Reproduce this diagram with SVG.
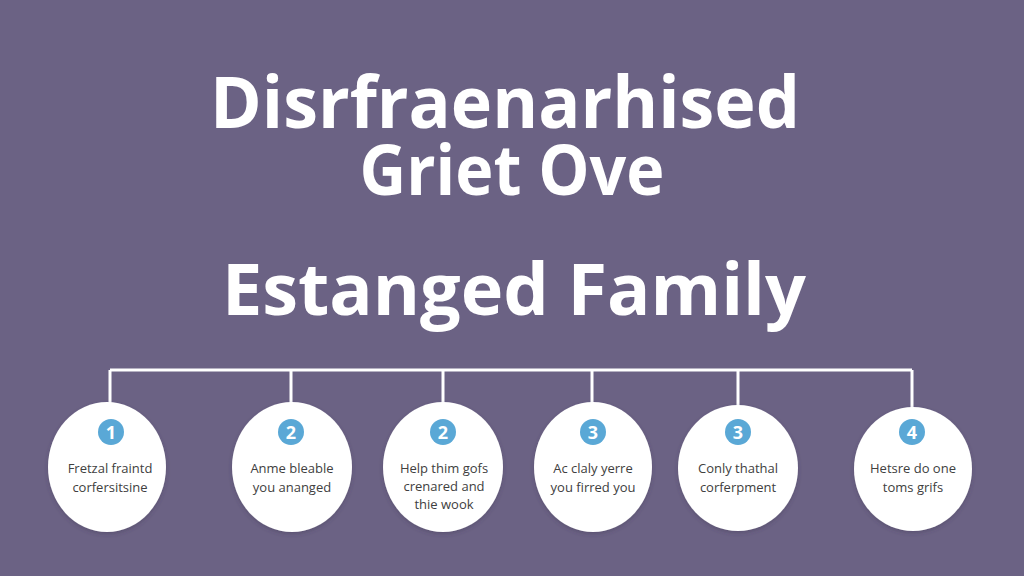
<svg xmlns="http://www.w3.org/2000/svg" width="1024" height="576" viewBox="0 0 1024 576">
<defs>
<style>
.title{font-family:"Open Sans","Liberation Sans",sans-serif;font-weight:700;fill:#ffffff;text-anchor:middle}
.node{fill:#ffffff}
.badge{fill:#5aa8d6}
.num{font-family:"Open Sans","Liberation Sans",sans-serif;font-weight:700;font-size:18px;fill:#ffffff;text-anchor:middle}
.lbl{font-family:"Open Sans","Liberation Sans",sans-serif;font-size:13px;fill:#404040;text-anchor:middle}
.conn{stroke:#ffffff;stroke-width:3;fill:none}
</style>
<filter id="sh" x="-20%" y="-20%" width="140%" height="140%">
<feDropShadow dx="0" dy="2" stdDeviation="2" flood-color="#3a3350" flood-opacity="0.35"/>
</filter>
</defs>
<rect width="1024" height="576" fill="#6b6284"/>
<g id="title">
<text class="title" x="505" y="128" font-size="72" textLength="590" lengthAdjust="spacingAndGlyphs">Disrfraenarhised</text>
<text class="title" x="512" y="195" font-size="69" textLength="305" lengthAdjust="spacingAndGlyphs">Griet Ove</text>
<text class="title" x="514" y="315" font-size="72" textLength="584" lengthAdjust="spacingAndGlyphs">Estanged Family</text>
</g>
<g id="connectors">
<path class="conn" d="M110 370 H912 M110 370 V403 M291 370 V403 M443 370 V403 M592 370 V403 M738 370 V408 M912 370 V408"/>
</g>
<g id="node1">
<ellipse class="node" filter="url(#sh)" cx="107" cy="467" rx="59" ry="65"/>
<circle class="badge" cx="111" cy="432" r="13"/>
<text class="num" x="111" y="438.5">1</text>
<text class="lbl" x="110" y="473">Fretzal fraintd</text>
<text class="lbl" x="110" y="492">corfersitsine</text>
</g>
<g id="node2">
<ellipse class="node" filter="url(#sh)" cx="292" cy="467" rx="60" ry="65"/>
<circle class="badge" cx="291" cy="432" r="13"/>
<text class="num" x="291" y="438.5">2</text>
<text class="lbl" x="292" y="473">Anme bleable</text>
<text class="lbl" x="292" y="492">you ananged</text>
</g>
<g id="node3">
<ellipse class="node" filter="url(#sh)" cx="443" cy="467" rx="60" ry="65"/>
<circle class="badge" cx="443" cy="432" r="13"/>
<text class="num" x="443" y="438.5">2</text>
<text class="lbl" x="444" y="473">Help thim gofs</text>
<text class="lbl" x="444" y="491">crenared and</text>
<text class="lbl" x="444" y="509">thie wook</text>
</g>
<g id="node4">
<ellipse class="node" filter="url(#sh)" cx="593" cy="467" rx="59" ry="65"/>
<circle class="badge" cx="593" cy="432" r="13"/>
<text class="num" x="593" y="438.5">3</text>
<text class="lbl" x="593" y="473">Ac claly yerre</text>
<text class="lbl" x="593" y="492">you firred you</text>
</g>
<g id="node5">
<ellipse class="node" filter="url(#sh)" cx="738" cy="468" rx="60" ry="63"/>
<circle class="badge" cx="738" cy="432" r="13"/>
<text class="num" x="738" y="438.5">3</text>
<text class="lbl" x="738" y="473">Conly thathal</text>
<text class="lbl" x="738" y="492">corferpment</text>
</g>
<g id="node6">
<ellipse class="node" filter="url(#sh)" cx="913" cy="469" rx="59" ry="62"/>
<circle class="badge" cx="912" cy="432" r="13"/>
<text class="num" x="912" y="438.5">4</text>
<text class="lbl" x="913" y="473">Hetsre do one</text>
<text class="lbl" x="913" y="492">toms grifs</text>
</g>
</svg>
